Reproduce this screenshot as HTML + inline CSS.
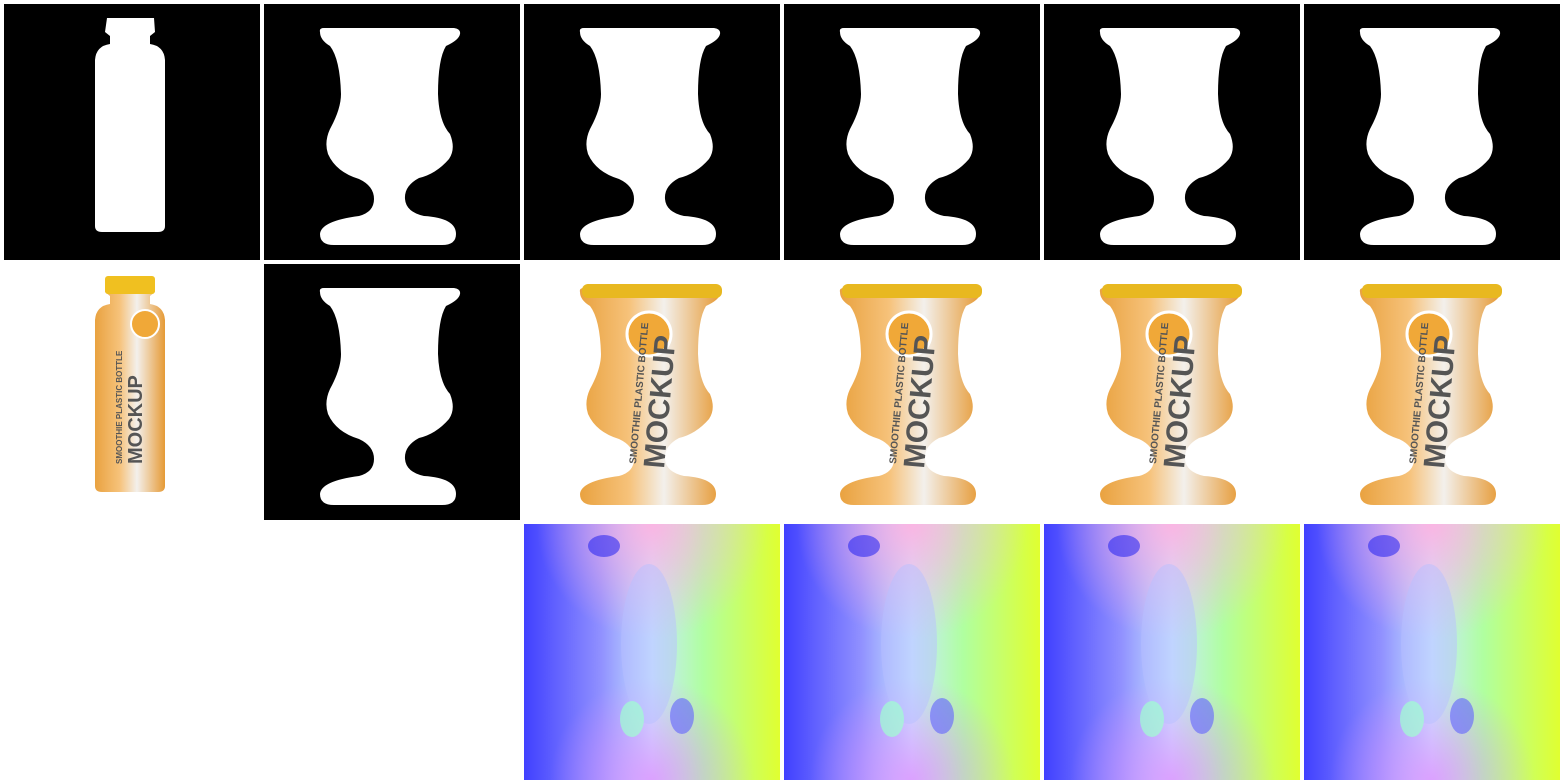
<!DOCTYPE html>
<html><head><meta charset="utf-8"><style>
html,body{margin:0;padding:0;background:#fff;width:1564px;height:784px;overflow:hidden}
svg{display:block}
</style></head><body>
<svg width="1564" height="784" viewBox="0 0 1564 784" xmlns="http://www.w3.org/2000/svg">
<defs>
<path id="vase" d="M56,28 Q55,24 60,24 L190,24 Q197,25 196,30 Q195,36 182,42 Q174,55 174,90 Q175,118 186,130 Q192,145 185,155 Q172,170 155,174 Q140,182 141,195 Q142,208 160,212 Q192,214 192,230 Q192,241 178,241 L70,241 Q56,241 56,230 Q57,217 95,212 Q110,208 110,195 Q110,182 95,175 Q72,168 64,150 Q60,138 66,125 Q77,105 77,90 Q76,55 66,42 Q56,36 56,28 Z"/>
<path id="bottle" d="M103,14 L150,14 L151,28 L146,32 L146,40 Q160,42 161,56 L161,222 Q161,228 154,228 L98,228 Q91,228 91,222 L91,56 Q92,42 106,40 L106,32 L101,28 Z"/>
<linearGradient id="og" x1="0" x2="1"><stop offset="0" stop-color="#e9a240"/><stop offset=".35" stop-color="#f6c27a"/><stop offset=".6" stop-color="#f3f0ec"/><stop offset="1" stop-color="#e69a35"/></linearGradient>
<linearGradient id="flowH" x1="0" x2="1"><stop offset="0" stop-color="#4040ff"/><stop offset=".3" stop-color="#9090ff"/><stop offset=".5" stop-color="#c8e8ff"/><stop offset=".7" stop-color="#b0ffa0"/><stop offset="1" stop-color="#e0ff30"/></linearGradient>
<radialGradient id="flowTop" cx=".5" cy="0" r=".45"><stop offset="0" stop-color="#ffb0e0" stop-opacity=".9"/><stop offset="1" stop-color="#ffb0e0" stop-opacity="0"/></radialGradient>
<radialGradient id="flowBot" cx=".5" cy="1" r=".4"><stop offset="0" stop-color="#e090ff" stop-opacity=".8"/><stop offset="1" stop-color="#e090ff" stop-opacity="0"/></radialGradient>
<g id="orangeVase">
<use href="#vase" fill="url(#og)"/>
<rect x="58" y="20" width="140" height="14" rx="6" fill="#e8b820"/>
<circle cx="125" cy="70" r="22" fill="#f0a838" stroke="#fff" stroke-width="3"/>
<text transform="translate(140,205) rotate(-85)" font-family="Liberation Sans, sans-serif" font-weight="bold" font-size="30" fill="#555">MOCKUP</text>
<text transform="translate(112,200) rotate(-85)" font-family="Liberation Sans, sans-serif" font-weight="bold" font-size="10" fill="#555">SMOOTHIE PLASTIC BOTTLE</text>
</g>
<g id="flow">
<rect width="256" height="256" fill="url(#flowH)"/>
<rect width="256" height="256" fill="url(#flowTop)"/>
<rect width="256" height="256" fill="url(#flowBot)"/>
<ellipse cx="125" cy="120" rx="28" ry="80" fill="#b8c0ff" opacity=".5"/>
<ellipse cx="108" cy="195" rx="12" ry="18" fill="#a0ffd0" opacity=".7"/>
<ellipse cx="158" cy="192" rx="12" ry="18" fill="#6060ff" opacity=".6"/>
<ellipse cx="80" cy="22" rx="16" ry="11" fill="#2020f0" opacity=".55"/>
</g>
</defs>
<g>
<g transform="translate(4,4)"><rect width="256" height="256" fill="#000"/><use href="#bottle" fill="#fff"/></g>
<g transform="translate(264,4)"><rect width="256" height="256" fill="#000"/><use href="#vase" fill="#fff"/></g>
<g transform="translate(524,4)"><rect width="256" height="256" fill="#000"/><use href="#vase" fill="#fff"/></g>
<g transform="translate(784,4)"><rect width="256" height="256" fill="#000"/><use href="#vase" fill="#fff"/></g>
<g transform="translate(1044,4)"><rect width="256" height="256" fill="#000"/><use href="#vase" fill="#fff"/></g>
<g transform="translate(1304,4)"><rect width="256" height="256" fill="#000"/><use href="#vase" fill="#fff"/></g>
</g>
<g>
<g transform="translate(4,264)">
<use href="#bottle" fill="url(#og)"/>
<rect x="101" y="12" width="50" height="18" rx="3" fill="#f0c020"/>
<circle cx="141" cy="60" r="14" fill="#f0a838" stroke="#fff" stroke-width="2"/>
<text transform="translate(138,200) rotate(-90)" font-family="Liberation Sans, sans-serif" font-weight="bold" font-size="20" fill="#555">MOCKUP</text>
<text transform="translate(118,200) rotate(-90)" font-family="Liberation Sans, sans-serif" font-weight="bold" font-size="8" fill="#555">SMOOTHIE PLASTIC BOTTLE</text>
</g>
<g transform="translate(264,264)"><rect width="256" height="256" fill="#000"/><use href="#vase" fill="#fff"/></g>
<g transform="translate(524,264)"><use href="#orangeVase"/></g>
<g transform="translate(784,264)"><use href="#orangeVase"/></g>
<g transform="translate(1044,264)"><use href="#orangeVase"/></g>
<g transform="translate(1304,264)"><use href="#orangeVase"/></g>
</g>
<g>
<g transform="translate(524,524)"><use href="#flow"/></g>
<g transform="translate(784,524)"><use href="#flow"/></g>
<g transform="translate(1044,524)"><use href="#flow"/></g>
<g transform="translate(1304,524)"><use href="#flow"/></g>
</g>
</svg>
</body></html>
